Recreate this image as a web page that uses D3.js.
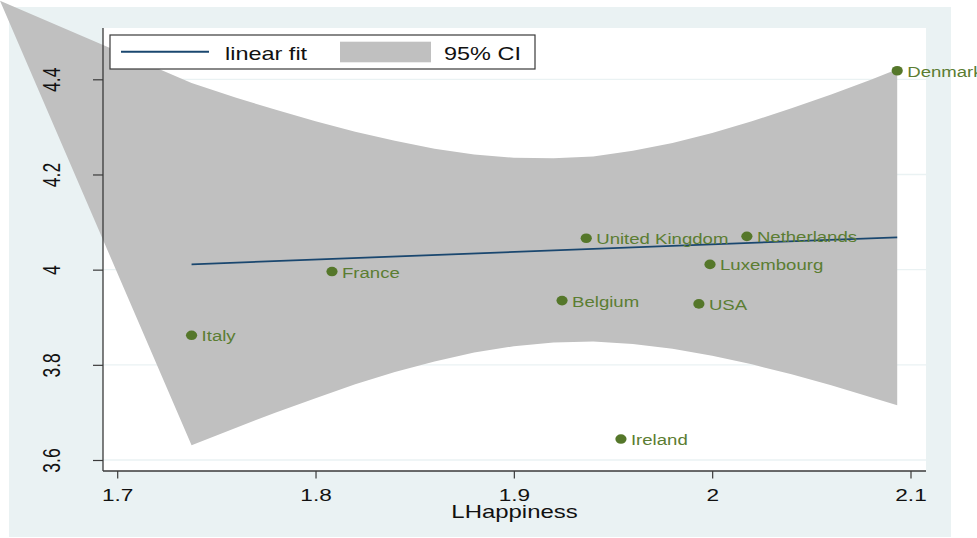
<!DOCTYPE html>
<html>
<head>
<meta charset="utf-8">
<script src="https://cdn.jsdelivr.net/npm/d3@7"></script>
<style>
  html, body { margin: 0; padding: 0; background: #ffffff; }
  svg { display: block; font-family: "Liberation Sans", Arial, Helvetica, sans-serif; }
</style>
</head>
<body>
<svg id="chart" width="977" height="538"></svg>
<script>
// ---- data ----------------------------------------------------------------
const countries = ["Italy", "France", "Belgium", "United Kingdom", "Netherlands",
                   "Luxembourg", "USA", "Ireland", "Denmark"];
const lHappiness = [1.7375, 1.8083, 1.9243, 1.9365, 2.0175, 1.9989, 1.9933, 1.9540, 2.0933];
const outcome    = [3.862, 3.996, 3.935, 4.066, 4.070, 4.011, 3.928, 3.644, 4.418];

// linear fit end points
const fitX = [1.7375, 2.0933];
const fitY = [4.0112, 4.0680];

// 95% confidence band; the first row is the polygon's anchor vertex at the top-left
const bandX     = [1.6409, 1.7375, 1.76, 1.78, 1.80, 1.82, 1.84, 1.86, 1.88, 1.90, 1.92,
                   1.94, 1.96, 1.98, 2.00, 2.02, 2.04, 2.06, 2.08, 2.0933];
const bandUpper = [4.565, 4.392, 4.361, 4.336, 4.312, 4.290, 4.271, 4.254, 4.242, 4.235, 4.234,
                   4.238, 4.250, 4.266, 4.287, 4.312, 4.339, 4.368, 4.399, 4.421];
const bandLower = [4.565, 3.631, 3.668, 3.700, 3.730, 3.759, 3.785, 3.807, 3.826, 3.839, 3.847,
                   3.849, 3.844, 3.834, 3.819, 3.801, 3.780, 3.757, 3.732, 3.715];

const xTicks = [1.7, 1.8, 1.9, 2.0, 2.1];
const xTickLabels = ["1.7", "1.8", "1.9", "2", "2.1"];
const yTicks = [3.6, 3.8, 4.0, 4.2, 4.4];
const yTickLabels = ["3.6", "3.8", "4", "4.2", "4.4"];
const xTitle = "LHappiness";
const legendLabels = ["linear fit", "95% CI"];

// ---- layout & styles ------------------------------------------------------
const W = 977, H = 538;
const outer = { left: 9, top: 7, right: 951, bottom: 537 };
const plot  = { left: 103, top: 28, right: 926, bottom: 471 };
const C = {
  bg: "#eaf2f3", band: "#c0c0c0", fit: "#1a476f",
  marker: "#55772a", label: "#5b7d32", axis: "#3a3a3a", text: "#111111"
};

const svg = d3.select("#chart");

const x = d3.scaleLinear().domain([1.7, 2.1]).range([117.2, 910.5]);
const y = d3.scaleLinear().domain([3.6, 4.4]).range([460, 79.3]);

// backgrounds
svg.append("rect").attr("x", 0).attr("y", 0).attr("width", W).attr("height", H).attr("fill", "#fff");
svg.append("rect")
  .attr("x", outer.left).attr("y", outer.top)
  .attr("width", outer.right - outer.left).attr("height", outer.bottom - outer.top)
  .attr("fill", C.bg);
svg.append("rect")
  .attr("x", plot.left).attr("y", plot.top)
  .attr("width", plot.right - plot.left).attr("height", plot.bottom - plot.top)
  .attr("fill", "#fff");

// horizontal grid lines
svg.append("g").selectAll("line").data(yTicks).join("line")
  .attr("x1", plot.left).attr("x2", plot.right)
  .attr("y1", d => y(d)).attr("y2", d => y(d))
  .attr("stroke", C.bg).attr("stroke-width", 1.3);

// confidence band
const bandRows = bandX.map((v, i) => ({ x: v, lo: bandLower[i], hi: bandUpper[i] }));
svg.append("path")
  .datum(bandRows)
  .attr("d", d3.area().x(d => x(d.x)).y0(d => y(d.lo)).y1(d => y(d.hi)).curve(d3.curveLinear))
  .attr("fill", C.band);

// fitted line
svg.append("path")
  .datum(fitX.map((v, i) => [v, fitY[i]]))
  .attr("d", d3.line().x(d => x(d[0])).y(d => y(d[1])))
  .attr("fill", "none").attr("stroke", C.fit).attr("stroke-width", 1.8);

// x axis
const xAxis = svg.append("g")
  .attr("transform", `translate(0,${plot.bottom})`)
  .call(d3.axisBottom(x).tickValues(xTicks).tickFormat((d, i) => xTickLabels[i])
        .tickSize(7.5).tickSizeOuter(0));
xAxis.select(".domain").remove();
xAxis.selectAll(".tick line").attr("stroke", C.axis).attr("stroke-width", 1.2);
xAxis.selectAll(".tick text")
  .attr("x", null).attr("y", null).attr("dy", null)
  .attr("transform", `translate(0,29.5) scale(1.33,1)`)
  .attr("text-anchor", "middle")
  .attr("font-size", 17).attr("fill", C.text)
  .attr("font-family", "Liberation Sans, Arial, sans-serif");

// y axis
const yAxis = svg.append("g")
  .attr("transform", `translate(${plot.left},0)`)
  .call(d3.axisLeft(y).tickValues(yTicks).tickFormat((d, i) => yTickLabels[i])
        .tickSize(10).tickSizeOuter(0));
yAxis.select(".domain").remove();
yAxis.selectAll(".tick line").attr("stroke", C.axis).attr("stroke-width", 1.2);
yAxis.selectAll(".tick text")
  .attr("x", null).attr("y", null).attr("dy", null)
  .attr("transform", `translate(-43,0) scale(1.4,1) rotate(-90)`)
  .attr("text-anchor", "middle")
  .attr("font-size", 17.5).attr("fill", C.text)
  .attr("font-family", "Liberation Sans, Arial, sans-serif");

// axis lines
svg.append("line")
  .attr("x1", plot.left).attr("x2", plot.left).attr("y1", plot.top).attr("y2", plot.bottom)
  .attr("stroke", C.axis).attr("stroke-width", 1.3);
svg.append("line")
  .attr("x1", plot.left).attr("x2", plot.right).attr("y1", plot.bottom).attr("y2", plot.bottom)
  .attr("stroke", C.axis).attr("stroke-width", 1.3);

// axis title
svg.append("text")
  .attr("transform", `translate(${(plot.left + plot.right) / 2},517.5) scale(1.33,1)`)
  .attr("text-anchor", "middle").attr("font-size", 18).attr("fill", C.text)
  .text(xTitle);

// scatter points and labels
const pts = countries.map((c, i) => ({ name: c, x: lHappiness[i], y: outcome[i] }));
const pg = svg.append("g");
pg.selectAll("ellipse").data(pts).join("ellipse")
  .attr("cx", d => x(d.x)).attr("cy", d => y(d.y))
  .attr("rx", 5.6).attr("ry", 4.8)
  .attr("fill", C.marker);
pg.selectAll("text").data(pts).join("text")
  .attr("transform", d => `translate(${x(d.x) + 10},${y(d.y) + 6}) scale(1.24,1)`)
  .attr("font-size", 15).attr("fill", C.label)
  .text(d => d.name);

// legend
const lg = svg.append("g");
lg.append("rect").attr("x", 110).attr("y", 35).attr("width", 425).attr("height", 34)
  .attr("fill", "#fff").attr("stroke", C.axis).attr("stroke-width", 1.2);
lg.append("line").attr("x1", 121).attr("x2", 209).attr("y1", 51.7).attr("y2", 51.7)
  .attr("stroke", C.fit).attr("stroke-width", 2);
lg.append("text")
  .attr("transform", "translate(225,60) scale(1.34,1)")
  .attr("font-size", 17.5).attr("fill", C.text).text(legendLabels[0]);
lg.append("rect").attr("x", 340).attr("y", 41.7).attr("width", 91).attr("height", 20.6)
  .attr("fill", C.band);
lg.append("text")
  .attr("transform", "translate(444,60) scale(1.34,1)")
  .attr("font-size", 17.5).attr("fill", C.text).text(legendLabels[1]);
</script>
</body>
</html>
